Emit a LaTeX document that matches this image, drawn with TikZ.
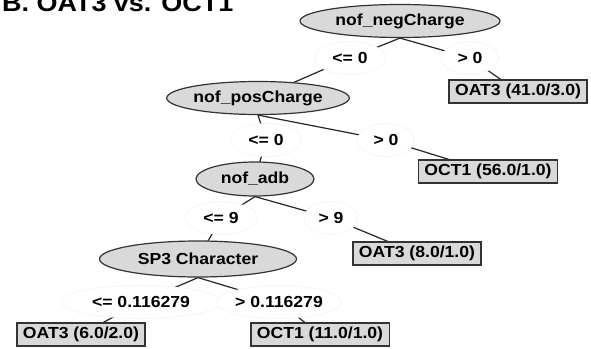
\documentclass[tikz,border=0pt]{standalone}
\usepackage{fontspec}
\setmainfont{Liberation Sans}[FakeStretch=1.1]
\usetikzlibrary{shapes.geometric,backgrounds}
\begin{document}
\begin{tikzpicture}[x=1pt,y=-1pt,
  txt/.style={font=\fontsize{16}{18}\selectfont\bfseries},
  split/.style={ellipse,draw=black!80,line width=1.2pt,fill=black!15,txt,inner sep=0pt},
  leaf/.style={rectangle,draw=black!80,line width=1.2pt,fill=black!15,txt,inner xsep=6pt,inner ysep=0pt,minimum height=23pt},
  cond/.style={ellipse,draw=black!10,densely dotted,line width=0.6pt,fill=white,txt,inner sep=0pt,minimum height=33pt},
  edge/.style={draw=black!85,line width=1.2pt}]
\useasboundingbox (0,0) rectangle (591,348);
\node[anchor=base west,inner sep=0pt,font=\fontsize{24.5}{26}\selectfont\bfseries] (title) at (2,11) {B. OAT3 vs. OCT1};
% split nodes
\node[split,minimum width=200pt,minimum height=33pt] (n1) at (400,21) {nof\_negCharge};
\node[split,minimum width=153pt,minimum height=33pt] (n2) at (258,98) {nof\_posCharge};
\node[split,minimum width=118pt,minimum height=34pt] (n3) at (255,179) {nof\_adb};
\node[split,minimum width=197pt,minimum height=36pt] (n4) at (198,259) {SP3 Character};
% leaves
\node[leaf] (f1) at (518,91.5) {OAT3 (41.0/3.0)};
\node[leaf] (f2) at (488,171.5) {OCT1 (56.0/1.0)};
\node[leaf] (f3) at (417,253.5) {OAT3 (8.0/1.0)};
\node[leaf] (f4) at (81,334.5) {OAT3 (6.0/2.0)};
\node[leaf] (f5) at (320,334.5) {OCT1 (11.0/1.0)};
% condition labels
\node[cond,minimum width=72pt] (l1) at (350,58) {<= 0};
\node[cond,minimum width=57pt] (r1) at (470,58) {> 0};
\node[cond,minimum width=72pt] (l2) at (266,140) {<= 0};
\node[cond,minimum width=57pt] (r2) at (386,140) {> 0};
\node[cond,minimum width=72pt] (l3) at (221,218) {<= 9};
\node[cond,minimum width=54pt] (r3) at (331,218) {> 9};
\node[cond,minimum width=160pt] (l4) at (141,302) {<= 0.116279};
\node[cond,minimum width=125pt] (r4) at (279,302) {> 0.116279};
\begin{scope}[on background layer]
\fill[white] (0,0) rectangle (591,348);
\draw[edge] (n1.south) -- (l1.center) -- (n2.center);
\draw[edge] (n1.south) -- (r1.center) -- (f1.center);
\draw[edge] (n2.south) -- (l2.center) -- (n3.center);
\draw[edge] (n2.south) -- (r2.center) -- (f2.center);
\draw[edge] (n3.south) -- (l3.center) -- (n4.center);
\draw[edge] (n3.south) -- (r3.center) -- (f3.center);
\draw[edge] (n4.south) -- (l4.center) -- (f4.center);
\draw[edge] (n4.south) -- (r4.center) -- (f5.center);
\end{scope}
\end{tikzpicture}
\end{document}
